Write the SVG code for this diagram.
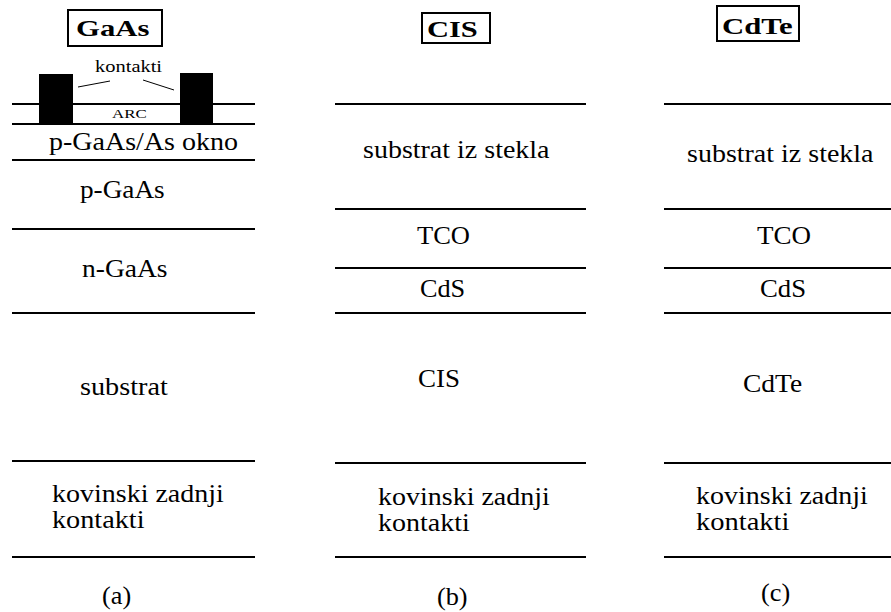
<svg xmlns="http://www.w3.org/2000/svg" width="891" height="612" viewBox="0 0 891 612">
<rect width="891" height="612" fill="#fff"/>
<g id="layer-lines" stroke="#000" stroke-width="2.2" fill="none">
  <line x1="12" y1="104" x2="255" y2="104"/>
  <line x1="12" y1="124" x2="255" y2="124"/>
  <line x1="12" y1="160" x2="255" y2="160"/>
  <line x1="12" y1="229" x2="255" y2="229"/>
  <line x1="12" y1="313" x2="255" y2="313"/>
  <line x1="12" y1="461" x2="255" y2="461"/>
  <line x1="12" y1="557" x2="255" y2="557"/>
  <line x1="335" y1="104" x2="586" y2="104"/>
  <line x1="335" y1="209" x2="586" y2="209"/>
  <line x1="335" y1="268" x2="586" y2="268"/>
  <line x1="335" y1="313" x2="586" y2="313"/>
  <line x1="335" y1="463" x2="586" y2="463"/>
  <line x1="335" y1="557" x2="586" y2="557"/>
  <line x1="664" y1="104" x2="891" y2="104"/>
  <line x1="664" y1="209" x2="891" y2="209"/>
  <line x1="664" y1="268" x2="891" y2="268"/>
  <line x1="664" y1="313" x2="891" y2="313"/>
  <line x1="664" y1="463" x2="891" y2="463"/>
  <line x1="664" y1="557" x2="891" y2="557"/>
  <line x1="78" y1="87" x2="110" y2="81" stroke-width="1"/>
  <line x1="143" y1="80" x2="174" y2="90" stroke-width="1"/>
</g>
<g id="panel-a">
  <rect x="68" y="10" width="94" height="36" fill="#fff" stroke="#000" stroke-width="2"/>
  <text transform="translate(76,36) scale(1.28,1)" font-family="Liberation Serif" font-size="24" font-weight="bold">GaAs</text>
  <rect x="39" y="74" width="34" height="50" fill="#000"/>
  <rect x="180" y="73" width="33" height="51" fill="#000"/>
  <text transform="translate(95,72) scale(1.28,1)" font-family="Liberation Serif" font-size="16">kontakti</text>
  <text transform="translate(112,118) scale(1.3,1)" font-family="Liberation Serif" font-size="13">ARC</text>
  <text transform="translate(49,150) scale(1.12,1)" font-family="Liberation Serif" font-size="25">p-GaAs/As okno</text>
  <text transform="translate(80,198) scale(1.09,1)" font-family="Liberation Serif" font-size="25">p-GaAs</text>
  <text transform="translate(82,277) scale(1.1,1)" font-family="Liberation Serif" font-size="25">n-GaAs</text>
  <text transform="translate(80,395) scale(1.13,1)" font-family="Liberation Serif" font-size="25">substrat</text>
  <text transform="translate(52,502) scale(1.12,1)" font-family="Liberation Serif" font-size="25">kovinski zadnji</text>
  <text transform="translate(52,528) scale(1.13,1)" font-family="Liberation Serif" font-size="25">kontakti</text>
  <text transform="translate(102,604) scale(1.05,1)" font-family="Liberation Serif" font-size="25">(a)</text>
</g>
<g id="panel-b">
  <rect x="422" y="13" width="68" height="30" fill="#fff" stroke="#000" stroke-width="2"/>
  <text transform="translate(427,37) scale(1.27,1)" font-family="Liberation Serif" font-size="24" font-weight="bold">CIS</text>
  <text transform="translate(363,158) scale(1.12,1)" font-family="Liberation Serif" font-size="25">substrat iz stekla</text>
  <text transform="translate(417,244) scale(1.06,1)" font-family="Liberation Serif" font-size="25">TCO</text>
  <text transform="translate(420,297) scale(1.05,1)" font-family="Liberation Serif" font-size="25">CdS</text>
  <text transform="translate(418,387) scale(1.08,1)" font-family="Liberation Serif" font-size="25">CIS</text>
  <text transform="translate(378,505) scale(1.12,1)" font-family="Liberation Serif" font-size="25">kovinski zadnji</text>
  <text transform="translate(378,531) scale(1.12,1)" font-family="Liberation Serif" font-size="25">kontakti</text>
  <text transform="translate(437,605) scale(1.05,1)" font-family="Liberation Serif" font-size="25">(b)</text>
</g>
<g id="panel-c">
  <rect x="717" y="6" width="82" height="35" fill="#fff" stroke="#000" stroke-width="2"/>
  <text transform="translate(722,34) scale(1.28,1)" font-family="Liberation Serif" font-size="24" font-weight="bold">CdTe</text>
  <text transform="translate(687,162) scale(1.12,1)" font-family="Liberation Serif" font-size="25">substrat iz stekla</text>
  <text transform="translate(757,244) scale(1.08,1)" font-family="Liberation Serif" font-size="25">TCO</text>
  <text transform="translate(760,297) scale(1.07,1)" font-family="Liberation Serif" font-size="25">CdS</text>
  <text transform="translate(743,392) scale(1.1,1)" font-family="Liberation Serif" font-size="25">CdTe</text>
  <text transform="translate(696,504) scale(1.12,1)" font-family="Liberation Serif" font-size="25">kovinski zadnji</text>
  <text transform="translate(696,530) scale(1.14,1)" font-family="Liberation Serif" font-size="25">kontakti</text>
  <text transform="translate(761,601) scale(1.05,1)" font-family="Liberation Serif" font-size="25">(c)</text>
</g>
</svg>
